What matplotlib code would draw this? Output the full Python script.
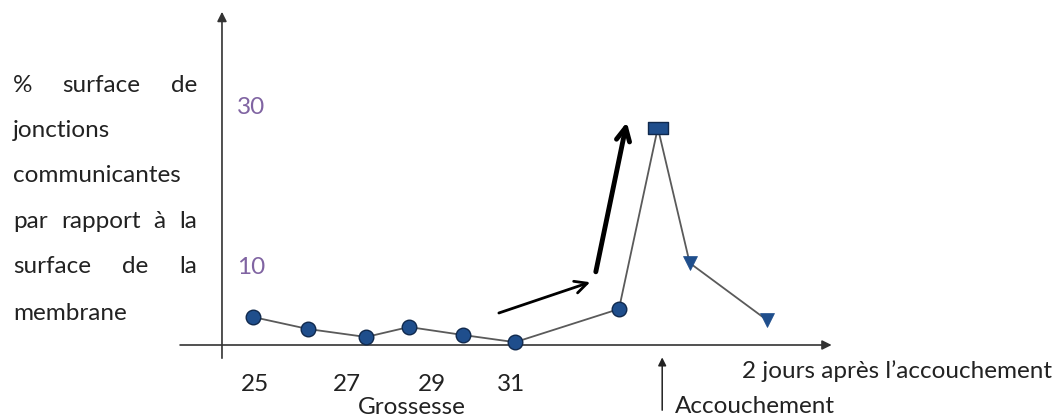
import numpy as np
import matplotlib.pyplot as plt
from matplotlib.path import Path

# data (x in weeks of pregnancy, y in %)
preg_x = [25, 26.26, 27.59, 28.57, 29.81, 31.0, 33.38]
preg_y = [3.75, 2.25, 1.25, 2.5, 1.5, 0.6, 4.75]
birth_x = [34.27]
birth_y = [27.4]
post_x = [35.0, 36.76]
post_y = [10.5, 3.4]

tick_labels = ['25', '27', '29', '31']
tick_pos = [25.05, 27.15, 29.1, 30.9]   # labels are not evenly spaced in the source
y_labels = [30, 10]

left_lines = [["%", "surface", "de"],
              ["jonctions"],
              ["communicantes"],
              ["par", "rapport", "à", "la"],
              ["surface", "de", "la"],
              ["membrane"]]

W, H = 1058, 417
plt.rcParams['font.family'] = ['Lato', 'DejaVu Sans']
fig = plt.figure(figsize=(W / 100, H / 100), dpi=100)
ax = fig.add_axes([0, 0, 1, 1])
ax.set_xlim(19.207, 43.433)
ax.set_ylim(-8.75, 43.375)
ax.axis('off')

txt = '#222222'
fs = 17.5

# axes drawn as arrows
ax.annotate('', xy=(24.29, 41.9), xytext=(24.29, -1.4),
            arrowprops=dict(arrowstyle='-|>', color='#333333', lw=1.2,
                            mutation_scale=14, shrinkA=0, shrinkB=0))
ax.annotate('', xy=(38.25, 0.25), xytext=(23.33, 0.25),
            arrowprops=dict(arrowstyle='-|>', color='#333333', lw=1.2,
                            mutation_scale=14, shrinkA=0, shrinkB=0))

# series
all_x = preg_x + birth_x + post_x
all_y = preg_y + birth_y + post_y
ax.plot(all_x, all_y, color='#5a5a5a', lw=1.3, zorder=2)
face, edge = '#1f4e8c', '#10294d'
ax.plot(preg_x, preg_y, 'o', ms=10.5, mfc=face, mec=edge, mew=1, zorder=3)
rect = Path([(-1, -0.58), (1, -0.58), (1, 0.58), (-1, 0.58), (-1, -0.58)],
            [Path.MOVETO, Path.LINETO, Path.LINETO, Path.LINETO, Path.CLOSEPOLY])
ax.plot(birth_x, birth_y, marker=rect, ls='none', ms=14, mfc=face, mec=edge, mew=1, zorder=3)
ax.plot(post_x, post_y, 'v', ms=10.5, mfc=face, mec=face, mew=0.5, zorder=3)

# trend arrows
ax.annotate('', xy=(32.72, 8.1), xytext=(30.63, 4.25),
            arrowprops=dict(arrowstyle='->', color='black', lw=2,
                            mutation_scale=22, shrinkA=0, shrinkB=0))
ax.annotate('', xy=(33.56, 28.1), xytext=(32.85, 9.4),
            arrowprops=dict(arrowstyle='->', color='black', lw=3.5,
                            mutation_scale=24, shrinkA=0, shrinkB=0))

# birth marker arrow
ax.annotate('', xy=(34.37, -1.3), xytext=(34.37, -7.9),
            arrowprops=dict(arrowstyle='-|>', color='#222222', lw=1.1,
                            mutation_scale=12, shrinkA=0, shrinkB=0))

# labels
for lab, p in zip(tick_labels, tick_pos):
    ax.text(p, -5.5, lab, ha='center', va='baseline', fontsize=fs, color=txt)
for v in y_labels:
    ax.text(24.95, v, str(v), ha='center', va='center', fontsize=fs, color='#8064a2')
ax.text(27.4, -8.4, 'Grossesse', ha='left', va='baseline', fontsize=fs, color=txt)
ax.text(34.66, -8.25, 'Accouchement', ha='left', va='baseline', fontsize=fs, color=txt)
ax.text(36.2, -3.9, '2 jours après l\u2019accouchement', ha='left', va='baseline',
        fontsize=fs, color=txt)

# justified text block on the left
x0, x1 = 13, 197
base_y = [92, 137, 182, 228, 273, 320]
fig.canvas.draw()
r = fig.canvas.get_renderer()
for words, by in zip(left_lines, base_y):
    yf = 1 - by / H
    if len(words) == 1:
        fig.text(x0 / W, yf, words[0], ha='left', va='baseline', fontsize=fs, color=txt)
        continue
    widths = []
    for w in words:
        t = fig.text(0, 0, w, fontsize=fs)
        widths.append(t.get_window_extent(r).width)
        t.remove()
    gap = (x1 - x0 - sum(widths)) / (len(words) - 1)
    xp = x0
    for w, wd in zip(words, widths):
        fig.text(xp / W, yf, w, ha='left', va='baseline', fontsize=fs, color=txt)
        xp += wd + gap

fig.savefig('out.png', dpi=100)
